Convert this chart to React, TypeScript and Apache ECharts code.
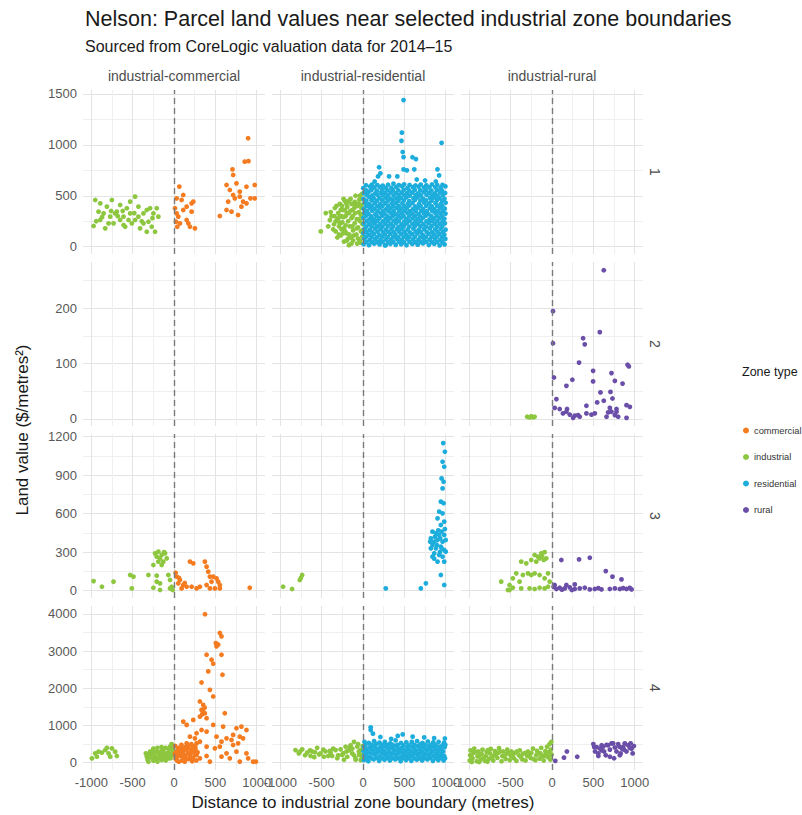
import React, { useEffect, useRef } from "react";
import * as echarts from "echarts";

// ---------- categories / labels ----------
const facetCols = ["industrial-commercial", "industrial-residential", "industrial-rural"];
const facetRows = ["1", "2", "3", "4"];
const zoneTypes = ["commercial", "industrial", "residential", "rural"];
const zoneColors = ["#F47B20", "#8DC63F", "#1DADDC", "#6A4EA8"];

const xMajor = [-1000, -500, 0, 500, 1000];
const xMinor = [-750, -250, 250, 750];
const yMajorByRow = [
  [0, 500, 1000, 1500],
  [0, 100, 200],
  [0, 300, 600, 900, 1200],
  [0, 1000, 2000, 3000, 4000],
];
const yMinorByRow = [
  [250, 750, 1250],
  [50, 150, 250],
  [150, 450, 750, 1050],
  [500, 1500, 2500, 3500],
];

// ---------- data: [distance (m), land value ($/m2)] ----------
// Row 1, industrial-commercial
const r1_ic_industrial = [
  [-952, 458], [-912, 344], [-892, 262], [-972, 203], [-831, 180], [-811, 393], [-771, 295], [-751, 458],
  [-731, 229], [-691, 344], [-651, 262], [-610, 295], [-590, 196], [-570, 377], [-530, 327], [-510, 229],
  [-470, 491], [-470, 262], [-430, 393], [-410, 180], [-369, 327], [-329, 360], [-309, 245], [-269, 196],
  [-249, 327], [-209, 377], [-189, 295], [-329, 147], [-851, 327], [-651, 409], [-791, 229], [-550, 262],
  [-430, 295], [-289, 377], [-229, 147], [-892, 426], [-530, 442], [-369, 229], [-711, 327], [-610, 213],
  [-940, 250], [-870, 290], [-760, 350], [-680, 300], [-620, 350], [-480, 330], [-390, 250], [-260, 280],
];
const r1_ic_commercial = [
  [64, 590], [32, 475], [92, 458], [12, 377], [153, 393], [213, 426], [233, 442], [112, 360], [52, 295],
  [24, 245], [72, 229], [153, 262], [173, 229], [253, 180], [193, 196], [40, 196], [112, 508], [213, 344],
  [32, 327], [896, 1065], [900, 840], [855, 835], [707, 760], [715, 704], [635, 606], [755, 622], [976, 606],
  [675, 557], [715, 508], [795, 540], [876, 589], [655, 442], [795, 491], [835, 442], [924, 475], [976, 475],
  [635, 360], [695, 344], [554, 301], [775, 311], [876, 426], [735, 475], [815, 393],
];
// Row 1, industrial-residential
const r1_ir_industrial = [
  [-510, 150], [-450, 330], [-400, 260], [-420, 200], [-380, 300], [-350, 220], [-340, 380], [-330, 150],
  [-310, 270], [-300, 330], [-290, 200], [-280, 420], [-270, 110], [-260, 300], [-250, 240], [-240, 360],
  [-230, 180], [-220, 450], [-210, 300], [-200, 130], [-190, 390], [-180, 250], [-170, 15], [-170, 330],
  [-160, 200], [-150, 470], [-145, 90], [-140, 280], [-130, 360], [-120, 160], [-115, 420], [-100, 230],
  [-95, 330], [-90, 500], [-80, 120], [-75, 270], [-65, 400], [-60, 190], [-50, 340], [-45, 460], [-40, 60],
  [-35, 250], [-25, 150], [-20, 380], [-15, 300], [-10, 520], [-8, 100], [-5, 220], [-270, 360], [-240, 130],
  [-200, 420], [-180, 80], [-120, 60], [-60, 80], [-30, 40], [-310, 90], [-260, 170], [-210, 210],
  [-130, 200], [-100, 440], [-70, 30], [-20, 470], [-330, 250], [-360, 170], [-390, 340], [-285, 290],
  [-155, 350], [-110, 110], [-85, 410], [-55, 270], [-230, 50],
  [-290, 120], [-275, 230], [-255, 400], [-235, 290], [-215, 150], [-195, 330], [-175, 450], [-165, 120],
  [-125, 300], [-105, 380], [-75, 180], [-55, 420], [-30, 320], [-12, 160], [-18, 410], [-40, 500],
  [-140, 420], [-220, 360], [-300, 250], [-345, 300], [-320, 400], [-235, 470], [-195, 60], [-140, 30],
];
const r1_ir_residential = [
  [8, 25], [14, 78], [5, 130], [18, 175], [10, 228], [4, 282], [16, 330], [9, 372], [20, 431], [6, 470], [12, 526], [3, 575],
  [72, 15], [80, 66], [69, 118], [84, 166], [74, 222], [79, 270], [67, 322], [83, 380], [71, 418], [78, 486], [65, 535], [86, 590],
  [136, 30], [145, 74], [131, 125], [148, 178], [139, 230], [133, 268], [150, 318], [138, 372], [143, 428], [129, 476], [147, 522], [135, 582], [141, 640],
  [201, 22], [210, 64], [198, 115], [212, 172], [204, 219], [196, 279], [214, 330], [203, 384], [208, 421], [199, 478], [215, 530], [206, 585], [195, 780], [182, 690], [210, 720],
  [266, 12], [275, 72], [262, 121], [278, 168], [269, 226], [273, 276], [260, 323], [280, 368], [267, 427], [274, 482], [263, 528], [276, 577], [275, 15],
  [331, 28], [340, 70], [328, 128], [344, 174], [336, 221], [330, 281], [342, 328], [333, 376], [346, 424], [329, 471], [338, 534], [343, 579], [315, 690],
  [396, 18], [405, 79], [393, 119], [409, 171], [398, 232], [404, 272], [391, 319], [407, 381], [399, 430], [410, 476], [395, 525], [402, 588], [415, 690],
  [461, 24], [470, 68], [458, 126], [474, 176], [466, 218], [460, 284], [472, 326], [463, 374], [476, 426], [459, 480], [468, 531], [471, 594],
  [490, 760], [530, 750], [490, 880], [480, 930], [470, 1120], [465, 1040], [490, 1440],
  [526, 14], [535, 75], [523, 117], [539, 169], [531, 229], [525, 270], [537, 331], [528, 378], [541, 422], [524, 484], [533, 527], [538, 576],
  [596, 26], [605, 71], [593, 123], [609, 177], [598, 224], [604, 279], [591, 324], [607, 370], [599, 429], [610, 474], [595, 532], [603, 584],
  [620, 760], [640, 860], [650, 660], [598, 878],
  [661, 20], [670, 66], [658, 129], [674, 165], [666, 227], [660, 273], [672, 320], [663, 383], [676, 419], [659, 485], [668, 524], [673, 590],
  [726, 32], [735, 77], [723, 114], [739, 173], [731, 220], [725, 283], [737, 329], [728, 371], [741, 432], [724, 472], [733, 536], [738, 581], [750, 650],
  [796, 16], [805, 69], [793, 127], [809, 179], [798, 231], [804, 268], [791, 321], [807, 377], [799, 425], [810, 479], [795, 529], [803, 583],
  [861, 28], [870, 73], [858, 120], [874, 170], [866, 225], [860, 277], [872, 333], [863, 369], [876, 428], [859, 483], [868, 522], [873, 586], [880, 640],
  [926, 12], [935, 67], [923, 124], [939, 176], [931, 223], [925, 281], [937, 327], [928, 379], [941, 420], [924, 477], [933, 533], [938, 578],
  [900, 760], [920, 700], [950, 1020],
  [986, 22], [995, 76], [983, 118], [998, 167], [990, 229], [984, 274], [997, 325], [988, 373], [999, 431], [985, 470], [993, 527], [996, 592],
  [42, 47], [38, 97], [45, 148], [40, 196], [44, 252], [36, 303], [47, 349], [41, 398], [39, 452], [46, 507], [43, 552], [37, 603],
  [107, 45], [103, 95], [111, 143], [105, 200], [109, 248], [101, 298], [112, 352], [106, 402], [104, 455], [110, 503], [102, 556], [108, 610],
  [172, 43], [168, 93], [176, 147], [170, 199], [174, 253], [166, 301], [177, 347], [171, 397], [169, 453], [175, 508], [167, 551], [173, 605],
  [237, 48], [233, 98], [241, 144], [235, 197], [239, 249], [231, 304], [242, 351], [236, 399], [234, 456], [240, 504], [232, 557], [238, 600],
  [302, 44], [298, 94], [306, 146], [300, 201], [304, 251], [296, 299], [307, 348], [301, 403], [299, 451], [305, 506], [297, 553], [303, 608],
  [367, 46], [363, 96], [371, 142], [365, 198], [369, 254], [361, 302], [372, 350], [366, 396], [364, 457], [370, 502], [362, 555], [368, 620],
  [432, 49], [428, 92], [436, 149], [430, 195], [434, 250], [426, 305], [437, 346], [431, 401], [429, 450], [435, 509], [427, 554], [433, 604],
  [497, 42], [493, 99], [501, 145], [495, 202], [499, 247], [491, 300], [502, 353], [496, 398], [494, 454], [500, 505], [492, 558], [498, 612],
  [562, 47], [558, 94], [566, 141], [560, 196], [564, 255], [556, 297], [567, 349], [561, 404], [559, 449], [565, 501], [557, 552], [563, 606],
  [632, 44], [628, 97], [636, 148], [630, 203], [634, 246], [626, 303], [637, 347], [631, 395], [629, 458], [635, 507], [627, 556], [633, 601],
  [697, 45], [693, 93], [701, 144], [695, 199], [699, 252], [691, 298], [702, 352], [696, 400], [694, 452], [700, 503], [692, 553], [698, 609],
  [765, 48], [761, 96], [769, 146], [763, 197], [767, 249], [759, 304], [770, 348], [764, 402], [762, 455], [768, 508], [760, 557], [766, 603],
  [832, 43], [828, 95], [836, 143], [830, 201], [834, 253], [826, 300], [837, 350], [831, 397], [829, 451], [835, 504], [827, 551], [833, 611],
  [897, 46], [893, 98], [901, 147], [895, 198], [899, 250], [891, 302], [902, 346], [896, 403], [894, 456], [900, 502], [892, 555], [898, 604],
  [960, 44], [956, 94], [964, 145], [958, 200], [962, 248], [954, 299], [965, 351], [959, 399], [957, 453], [963, 506], [955, 552], [961, 607],
];

// Row 2, industrial-rural
const r2_iru_industrial = [[-300, 4], [-270, 3], [-250, 5], [-230, 3], [-210, 4]];
const r2_iru_rural = [
  [626, 269], [12, 195], [12, 137], [578, 157], [376, 146], [396, 135], [327, 102], [913, 98], [929, 95],
  [497, 87], [719, 83], [24, 75], [246, 71], [497, 68], [760, 69], [853, 64], [174, 60], [586, 48], [707, 49],
  [53, 36], [731, 37], [626, 33], [546, 30], [416, 24], [901, 25], [941, 22], [32, 20], [93, 18], [182, 18],
  [699, 20], [780, 18], [133, 10], [214, 8], [275, 6], [315, 7], [416, 10], [477, 8], [517, 10], [679, 12],
  [760, 7], [800, 4], [901, 2], [255, 2], [335, 4], [659, 4], [719, 13], [780, 13], [174, 13],
];

// Row 3, industrial-commercial
const r3_ic_industrial = [
  [-972, 75], [-871, 31], [-731, 70], [-530, 122], [-490, 109], [-510, 18], [-309, 122], [-249, 23], [-209, 70],
  [-169, 57], [-68, 122], [-48, 83], [-28, 31], [-209, 117], [-249, 200], [-229, 291], [-189, 304], [-149, 278],
  [-169, 252], [-209, 265], [-129, 226], [-108, 291], [-88, 252], [-149, 200], [-189, 226], [-120, 300],
  [-48, 18], [-16, 5], [-169, 5],
];
const r3_ic_commercial = [
  [32, 109], [72, 83], [52, 57], [112, 44], [153, 31], [213, 31], [92, 18], [193, 226], [233, 213], [373, 226],
  [394, 187], [414, 148], [434, 109], [474, 109], [514, 96], [534, 70], [554, 44], [394, 44], [434, 18],
  [494, 18], [554, 18], [454, 70], [916, 23], [273, 18], [313, 31], [20, 140], [60, 100], [130, 60],
];
// Row 3, industrial-residential
const r3_ir_industrial = [[-966, 31], [-857, 13], [-764, 83], [-735, 122], [-750, 100]];
const r3_ir_residential = [
  [275, 18], [699, 18], [760, 57], [982, 44], [970, 1150], [990, 1083], [962, 1005], [982, 966], [950, 875],
  [974, 849], [962, 797], [941, 694], [974, 681], [921, 616], [962, 603], [901, 564], [982, 538], [941, 512],
  [840, 460], [881, 447], [921, 434], [982, 434], [820, 408], [861, 382], [901, 395], [962, 382], [1000, 395],
  [840, 356], [881, 330], [941, 343], [982, 317], [861, 291], [921, 278], [962, 265], [901, 226], [982, 226],
  [941, 122], [820, 330], [840, 265], [1000, 304], [893, 356], [933, 408], [950, 460], [812, 382],
  [870, 420], [910, 470], [950, 330], [990, 480], [860, 250], [930, 300],
];
// Row 3, industrial-rural
const r3_iru_industrial = [
  [-614, 70], [-533, 5], [-513, 44], [-473, 96], [-432, 135], [-392, 70], [-352, 122], [-291, 135], [-251, 122],
  [-210, 135], [-150, 122], [-89, 96], [-48, 135], [-372, 18], [-271, 18], [-210, 13], [-150, 23], [-89, 18],
  [-48, 31], [-28, 70], [-372, 226], [-311, 213], [-251, 239], [-210, 278], [-170, 265], [-129, 291], [-89, 300],
  [-150, 252], [-69, 252], [-190, 226], [-513, 5], [-473, 23], [-120, 270], [-100, 240],
];
const r3_iru_rural = [
  [113, 239], [327, 244], [457, 257], [650, 153], [731, 109], [840, 88], [32, 44], [53, 13], [93, 23], [154, 18],
  [214, 26], [275, 13], [335, 18], [396, 23], [457, 10], [517, 13], [598, 10], [699, 13], [760, 18], [820, 13],
  [901, 13], [962, 10], [174, 44], [275, 49], [20, 30], [120, 8], [240, 5], [560, 20], [860, 20], [940, 22],
];

// Row 4, industrial-commercial
const r4_ic_industrial = [
  [-992, 117], [-952, 252], [-912, 297], [-871, 270], [-831, 341], [-791, 252], [-751, 386], [-711, 297],
  [-691, 180], [-932, 162], [-771, 162], [-811, 400],
  [-329, 162], [-309, 27], [-269, 252], [-229, 162], [-209, 297], [-169, 207], [-129, 341], [-88, 252],
  [-48, 431], [-16, 476], [-28, 207], [-68, 117], [-149, 72], [-249, 54], [-289, 297], [-189, 117],
  [-108, 162], [-8, 297], [-340, 250], [-250, 380], [-150, 420], [-60, 350], [-100, 60], [-200, 30],
  [-320, 80], [-300, 220], [-280, 140], [-260, 320], [-240, 240], [-220, 110], [-200, 400], [-180, 220],
  [-160, 300], [-140, 150], [-120, 250], [-100, 400], [-80, 180], [-60, 260], [-40, 120], [-20, 380],
  [-10, 200], [-30, 500],
];
const r4_ic_commercial = [
  [375, 3990], [554, 3486], [574, 3396], [506, 3216], [534, 3172], [514, 3127], [394, 2902], [454, 2767],
  [574, 2902], [474, 2659], [414, 2453], [586, 2363], [333, 2156], [434, 1959], [313, 1644], [353, 1554],
  [333, 1420], [373, 1330], [474, 1779], [313, 1240], [394, 1195], [614, 1330], [233, 1150], [112, 1105],
  [153, 1015], [474, 1015], [594, 970], [755, 925], [815, 970], [876, 880], [715, 746], [795, 701],
  [695, 611], [835, 656], [635, 656], [775, 521], [514, 701], [574, 566], [273, 791], [193, 701], [253, 656],
  [313, 566], [153, 521], [233, 431], [394, 431], [112, 386], [52, 341], [72, 252], [32, 207], [133, 162],
  [193, 117], [273, 207], [494, 386], [635, 252], [755, 297], [876, 252], [896, 117], [956, 27], [795, 27],
  [675, 117], [434, 27], [574, 162], [12, 252], [40, 162], [72, 386], [173, 252], [313, 117], [394, 180],
  [990, 27], [715, 476], [554, 431], [213, 341], [273, 521], [394, 836], [333, 880],
  [20, 100], [50, 400], [80, 180], [110, 300], [140, 80], [170, 450], [200, 250], [230, 120], [260, 380],
  [30, 300], [60, 30], [90, 480], [120, 220], [150, 350], [180, 100], [210, 500], [240, 300], [270, 60],
  [15, 450], [100, 60], [190, 380], [250, 200], [350, 1380], [370, 1480], [340, 1300],
  [15, 200], [45, 280], [75, 340], [105, 150], [135, 420], [165, 230], [195, 160], [225, 360], [255, 440],
  [285, 280], [40, 50], [130, 30], [220, 40],
];
// Row 4, industrial-residential
const r4_ir_industrial = [
  [-816, 340], [-776, 250], [-735, 360], [-700, 200], [-675, 270], [-640, 330], [-614, 300], [-590, 150],
  [-554, 400], [-530, 220], [-513, 250], [-480, 350], [-453, 300], [-420, 180], [-392, 270], [-360, 380],
  [-331, 340], [-300, 200], [-271, 360], [-240, 250], [-210, 430], [-190, 160], [-170, 330], [-150, 470],
  [-130, 250], [-109, 560], [-90, 120], [-69, 430], [-50, 300], [-28, 340], [-15, 200], [-5, 450],
  [-311, 120], [-473, 160], [-634, 180], [-89, 80], [-28, 70], [-251, 210], [-372, 180], [-129, 380],
  [-48, 210], [-200, 300], [-160, 400], [-60, 500], [-230, 80], [-110, 200], [-20, 100], [-400, 320],
  [-580, 280], [-760, 300],
];
const r4_ir_residential = [
  [10, 70], [15, 190], [8, 310], [12, 430], [18, 560], [65, 40], [72, 160], [60, 290], [78, 410], [70, 530],
  [93, 950], [93, 880], [120, 780], [130, 90], [138, 220], [125, 330], [142, 450], [134, 580],
  [195, 50], [202, 170], [190, 300], [208, 420], [199, 540], [210, 690], [260, 80], [268, 200], [255, 320],
  [272, 440], [264, 560], [325, 60], [332, 180], [320, 290], [338, 410], [330, 520], [340, 640],
  [390, 90], [398, 210], [385, 330], [402, 460], [394, 600], [420, 720], [455, 40], [462, 160], [450, 280],
  [468, 400], [460, 530], [480, 760], [520, 70], [528, 190], [515, 310], [532, 430], [524, 550],
  [585, 50], [592, 180], [580, 300], [598, 420], [590, 560], [600, 700], [650, 80], [658, 200], [645, 320],
  [662, 450], [654, 580], [715, 60], [722, 170], [710, 290], [728, 410], [720, 530], [740, 680],
  [780, 90], [788, 210], [775, 330], [792, 440], [784, 570], [845, 50], [852, 180], [840, 300], [858, 420],
  [850, 550], [860, 660], [910, 70], [918, 190], [905, 310], [922, 430], [914, 560], [975, 60], [982, 180],
  [970, 300], [988, 420], [980, 540], [990, 650],
  [40, 120], [100, 250], [165, 370], [230, 120], [295, 480], [360, 250], [425, 120], [490, 350], [555, 240],
  [620, 120], [685, 360], [750, 240], [815, 130], [880, 360], [945, 240], [30, 480], [160, 500], [300, 380],
  [440, 340], [560, 470], [700, 500], [820, 480], [960, 470],
  [38, 240], [36, 360], [102, 120], [98, 380], [104, 480], [165, 130], [160, 250], [232, 250], [228, 370],
  [234, 480], [295, 130], [292, 250], [360, 120], [362, 380], [358, 480], [425, 250], [428, 370], [422, 480],
  [490, 120], [492, 240], [488, 470], [555, 120], [552, 360], [620, 250], [622, 370], [618, 480], [685, 120],
  [682, 240], [688, 470], [750, 120], [752, 360], [748, 480], [815, 250], [812, 370], [880, 120], [882, 240],
  [878, 480], [945, 120], [942, 360], [992, 120], [995, 480],
];
// Row 4, industrial-rural
const r4_iru_industrial = [
  [-995, 60], [-990, 200], [-985, 330], [-960, 120], [-950, 260], [-940, 380], [-910, 40], [-900, 170],
  [-890, 300], [-860, 90], [-850, 230], [-840, 350], [-810, 50], [-800, 180], [-790, 290], [-760, 110],
  [-750, 250], [-740, 370], [-710, 60], [-700, 200], [-690, 310], [-660, 130], [-650, 270], [-640, 390],
  [-610, 40], [-600, 180], [-590, 300], [-560, 100], [-550, 240], [-540, 350], [-510, 70], [-500, 190],
  [-490, 300], [-460, 120], [-450, 260], [-430, 50], [-400, 200], [-390, 330], [-360, 90], [-350, 240],
  [-320, 60], [-300, 180], [-290, 300], [-260, 130], [-250, 260], [-230, 380], [-200, 70], [-190, 200],
  [-180, 320], [-150, 110], [-140, 250], [-130, 400], [-100, 60], [-90, 190], [-80, 310], [-60, 430],
  [-50, 150], [-40, 280], [-30, 500], [-20, 80], [-15, 350], [-8, 560], [-5, 220],
  [-975, 160], [-925, 280], [-875, 200], [-825, 120], [-775, 340], [-725, 140], [-675, 230], [-625, 300],
  [-575, 170], [-525, 260], [-475, 200], [-425, 300], [-375, 150], [-325, 260], [-275, 200], [-225, 100],
  [-175, 260], [-125, 170], [-75, 240], [-25, 180], [-970, 20], [-880, 20], [-780, 30],
];
const r4_iru_rural = [
  [40, 50], [145, 135], [180, 300], [305, 160], [500, 500], [520, 300], [540, 420], [560, 250], [580, 380],
  [600, 470], [618, 430], [630, 300], [650, 200], [660, 480], [679, 470], [700, 350], [720, 520], [739, 520],
  [750, 120], [760, 410], [780, 300], [800, 500], [815, 430], [830, 250], [845, 380], [861, 430], [880, 520],
  [900, 300], [921, 470], [940, 400], [962, 380], [975, 250], [990, 450], [700, 160], [820, 200], [560, 180],
  [600, 330], [870, 350], [950, 520], [510, 420],
];

// panel -> zone -> data
const panelData: { row: number; col: number; zone: number; data: number[][] }[] = [
  { row: 0, col: 0, zone: 1, data: r1_ic_industrial },
  { row: 0, col: 0, zone: 0, data: r1_ic_commercial },
  { row: 0, col: 1, zone: 1, data: r1_ir_industrial },
  { row: 0, col: 1, zone: 2, data: r1_ir_residential },
  { row: 1, col: 2, zone: 1, data: r2_iru_industrial },
  { row: 1, col: 2, zone: 3, data: r2_iru_rural },
  { row: 2, col: 0, zone: 1, data: r3_ic_industrial },
  { row: 2, col: 0, zone: 0, data: r3_ic_commercial },
  { row: 2, col: 1, zone: 1, data: r3_ir_industrial },
  { row: 2, col: 1, zone: 2, data: r3_ir_residential },
  { row: 2, col: 2, zone: 1, data: r3_iru_industrial },
  { row: 2, col: 2, zone: 3, data: r3_iru_rural },
  { row: 3, col: 0, zone: 1, data: r4_ic_industrial },
  { row: 3, col: 0, zone: 0, data: r4_ic_commercial },
  { row: 3, col: 1, zone: 1, data: r4_ir_industrial },
  { row: 3, col: 1, zone: 2, data: r4_ir_residential },
  { row: 3, col: 2, zone: 1, data: r4_iru_industrial },
  { row: 3, col: 2, zone: 3, data: r4_iru_rural },
];

// ---------- layout ----------
const FONT = "'Liberation Sans', Arial, Helvetica, sans-serif";
const GRID_LEFT = [83, 272, 461];
const GRID_TOP = [90, 262, 434, 606];
const GRID_W = 182;
const GRID_H = 164;
const X_RANGE = [-1100, 1100];
const Y_RANGE = [
  [-72, 1539],
  [-12.7, 283.9],
  [-57, 1221],
  [-196, 4212],
];

function buildOption() {
  const grids: any[] = [];
  const xAxes: any[] = [];
  const yAxes: any[] = [];
  const series: any[] = [];
  const xAll = [...xMajor, ...xMinor].sort((a, b) => a - b);
  const fmt = (v: number) => String(v);

  for (let r = 0; r < 4; r++) {
    for (let c = 0; c < 3; c++) {
      const idx = r * 3 + c;
      grids.push({ left: GRID_LEFT[c], top: GRID_TOP[r], width: GRID_W, height: GRID_H, containLabel: false });
      xAxes.push({
        type: "value",
        gridIndex: idx,
        min: X_RANGE[0],
        max: X_RANGE[1],
        axisLine: { show: false },
        axisTick: { show: false, customValues: xAll },
        axisLabel: {
          show: r === 3,
          customValues: xMajor,
          formatter: fmt,
          color: "#595959",
          fontSize: 13,
          fontFamily: FONT,
          margin: 6,
        },
        splitLine: { show: true, lineStyle: { color: ["#e3e3e3", "#efefef"], width: 1 } },
      });
      const yAll = [...yMajorByRow[r], ...yMinorByRow[r]].sort((a, b) => a - b);
      yAxes.push({
        type: "value",
        gridIndex: idx,
        min: Y_RANGE[r][0],
        max: Y_RANGE[r][1],
        axisLine: { show: false },
        axisTick: { show: false, customValues: yAll },
        axisLabel: {
          show: c === 0,
          customValues: yMajorByRow[r],
          formatter: fmt,
          color: "#595959",
          fontSize: 13,
          fontFamily: FONT,
          margin: 6,
        },
        splitLine: { show: true, lineStyle: { color: ["#e3e3e3", "#efefef"], width: 1 } },
      });
      series.push({
        type: "scatter",
        name: "_boundary" + idx,
        xAxisIndex: idx,
        yAxisIndex: idx,
        data: [],
        silent: true,
        z: 1,
        markLine: {
          silent: true,
          symbol: ["none", "none"],
          label: { show: false },
          lineStyle: { color: "#7a7a7a", width: 1.4, type: [6, 4] },
          data: [{ xAxis: 0 }],
        },
      });
    }
  }

  panelData.forEach((p) => {
    const idx = p.row * 3 + p.col;
    series.push({
      type: "scatter",
      name: zoneTypes[p.zone],
      xAxisIndex: idx,
      yAxisIndex: idx,
      data: p.data,
      symbol: "circle",
      symbolSize: 4.8,
      itemStyle: { color: zoneColors[p.zone], opacity: 1 },
      z: 3,
    });
  });

  const txt = (text: string, x: number, y: number, size: number, fill: string, align: string, rotation = 0) => ({
    type: "text",
    x,
    y,
    rotation,
    style: {
      text,
      font: `${size}px ${FONT}`,
      fill,
      align,
      verticalAlign: "middle",
      textAlign: align,
      textVerticalAlign: "middle",
    },
  });

  const graphic: any[] = [];
  graphic.push(txt("Nelson: Parcel land values near selected industrial zone boundaries", 85, 19, 21.5, "#1a1a1a", "left"));
  graphic.push(txt("Sourced from CoreLogic valuation data for 2014\u201315", 85, 46, 16, "#1a1a1a", "left"));
  facetCols.forEach((t, c) => graphic.push(txt(t, GRID_LEFT[c] + GRID_W / 2, 76, 14, "#4d4d4d", "center")));
  facetRows.forEach((t, r) => graphic.push(txt(t, 655, GRID_TOP[r] + GRID_H / 2, 14, "#4d4d4d", "center", -Math.PI / 2)));
  graphic.push(
    txt("Land value ($/metres\u00B2)", 22, GRID_TOP[0] + (GRID_TOP[3] + GRID_H - GRID_TOP[0]) / 2, 17, "#1a1a1a", "center", Math.PI / 2)
  );
  graphic.push(
    txt("Distance to industrial zone boundary (metres)", (GRID_LEFT[0] + GRID_LEFT[2] + GRID_W) / 2, 802, 17, "#1a1a1a", "center")
  );
  graphic.push(txt("Zone type", 742, 372, 12.5, "#1a1a1a", "left"));

  return {
    animation: false,
    backgroundColor: "#ffffff",
    textStyle: { fontFamily: FONT },
    grid: grids,
    xAxis: xAxes,
    yAxis: yAxes,
    legend: {
      data: zoneTypes,
      orient: "vertical",
      left: 743,
      top: 426,
      padding: 0,
      itemWidth: 6,
      itemHeight: 6,
      itemGap: 17.5,
      icon: "circle",
      selectedMode: false,
      textStyle: { fontSize: 9.3, color: "#333333", fontFamily: FONT },
    },
    graphic,
    series,
  };
}

export default function App() {
  const ref = useRef<HTMLDivElement>(null);
  useEffect(() => {
    document.body.style.margin = "0";
    if (!ref.current) return;
    const chart = echarts.init(ref.current, undefined, { renderer: "svg" });
    chart.setOption(buildOption() as any);
    return () => chart.dispose();
  }, []);
  return <div ref={ref} style={{ width: 802, height: 815 }} />;
}
